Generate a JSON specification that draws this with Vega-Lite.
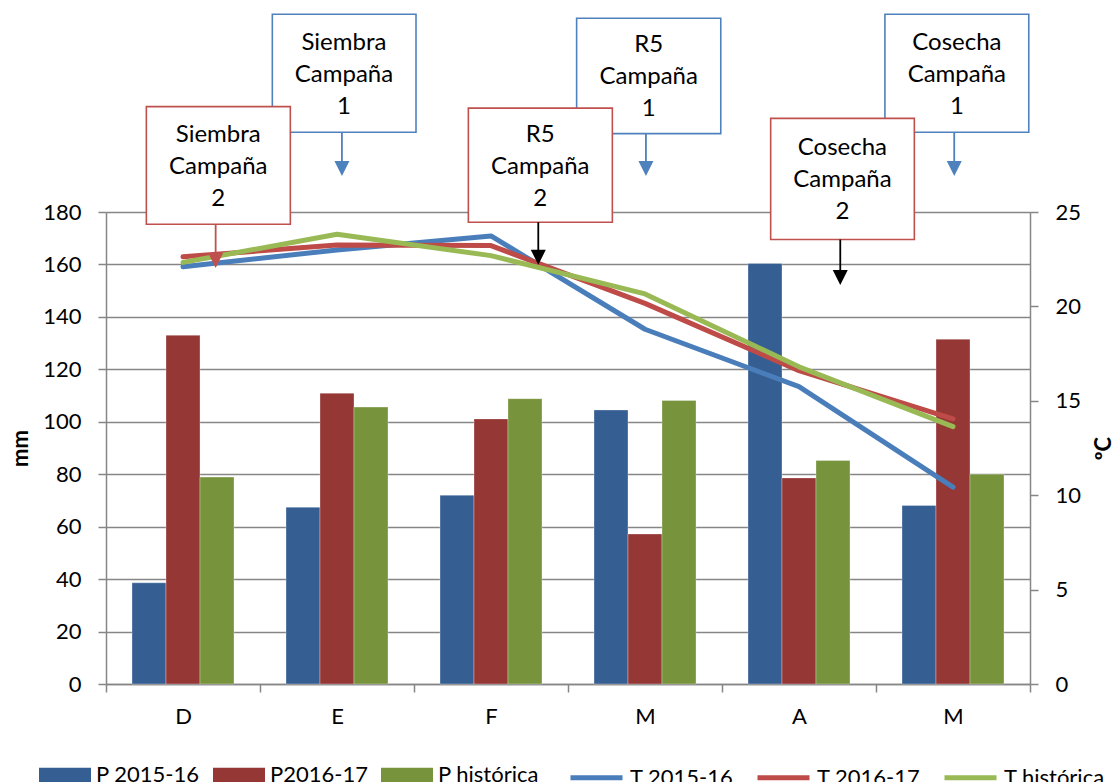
{
  "$schema": "https://vega.github.io/schema/vega-lite/v6.json",
  "width": 924,
  "height": 472,
  "autosize": {"type": "none"},
  "padding": {"left": 106, "top": 212, "right": 87, "bottom": 98},
  "background": "white",
  "config": {
    "font": "Lato",
    "view": {"stroke": null},
    "axis": {
      "domainColor": "#868686",
      "tickColor": "#868686",
      "gridColor": "#868686",
      "domainWidth": 1.5,
      "tickWidth": 1.5,
      "gridWidth": 1.5,
      "labelFont": "Lato",
      "labelFontSize": 22,
      "labelColor": "#000000",
      "titleFont": "Lato",
      "titleFontSize": 22,
      "titleFontWeight": "bold",
      "titleColor": "#000000"
    },
    "legend": {
      "title": null,
      "orient": "none",
      "direction": "horizontal",
      "columns": 3,
      "padding": 0,
      "columnPadding": 13,
      "labelOffset": 5,
      "labelFont": "Lato",
      "labelFontSize": 22,
      "labelColor": "#000000"
    }
  },
  "datasets": {
    "precip": [
      {"mes": "D", "serie": "P 2015-16", "mm": 38.6},
      {"mes": "E", "serie": "P 2015-16", "mm": 67.4},
      {"mes": "F", "serie": "P 2015-16", "mm": 72.0},
      {"mes": "M1", "serie": "P 2015-16", "mm": 104.5},
      {"mes": "A", "serie": "P 2015-16", "mm": 160.4},
      {"mes": "M2", "serie": "P 2015-16", "mm": 68.1},
      {"mes": "D", "serie": "P2016-17", "mm": 133.0},
      {"mes": "E", "serie": "P2016-17", "mm": 110.9},
      {"mes": "F", "serie": "P2016-17", "mm": 101.1},
      {"mes": "M1", "serie": "P2016-17", "mm": 57.2},
      {"mes": "A", "serie": "P2016-17", "mm": 78.6},
      {"mes": "M2", "serie": "P2016-17", "mm": 131.5},
      {"mes": "D", "serie": "P histórica", "mm": 78.9},
      {"mes": "E", "serie": "P histórica", "mm": 105.6},
      {"mes": "F", "serie": "P histórica", "mm": 108.8},
      {"mes": "M1", "serie": "P histórica", "mm": 108.1},
      {"mes": "A", "serie": "P histórica", "mm": 85.2},
      {"mes": "M2", "serie": "P histórica", "mm": 80.0}
    ],
    "temp": [
      {"mes": "D", "serie": "T 2015-16", "temp": 22.1},
      {"mes": "E", "serie": "T 2015-16", "temp": 22.99},
      {"mes": "F", "serie": "T 2015-16", "temp": 23.73},
      {"mes": "M1", "serie": "T 2015-16", "temp": 18.79},
      {"mes": "A", "serie": "T 2015-16", "temp": 15.75},
      {"mes": "M2", "serie": "T 2015-16", "temp": 10.43},
      {"mes": "D", "serie": "T 2016-17", "temp": 22.63},
      {"mes": "E", "serie": "T 2016-17", "temp": 23.25},
      {"mes": "F", "serie": "T 2016-17", "temp": 23.22},
      {"mes": "M1", "serie": "T 2016-17", "temp": 20.16},
      {"mes": "A", "serie": "T 2016-17", "temp": 16.6},
      {"mes": "M2", "serie": "T 2016-17", "temp": 14.04},
      {"mes": "D", "serie": "T histórica", "temp": 22.33},
      {"mes": "E", "serie": "T histórica", "temp": 23.82},
      {"mes": "F", "serie": "T histórica", "temp": 22.69},
      {"mes": "M1", "serie": "T histórica", "temp": 20.66},
      {"mes": "A", "serie": "T histórica", "temp": 16.8},
      {"mes": "M2", "serie": "T histórica", "temp": 13.63}
    ],
    "cajas": [
      {"campana": "1", "texto": "Siembra\nCampaña\n1", "x1": 1.080, "x2": 2.013, "y1": 210.4, "y2": 255.4, "xc": 1.545, "yc": 232.9},
      {"campana": "1", "texto": "R5\nCampaña\n1", "x1": 3.056, "x2": 3.992, "y1": 209.9, "y2": 253.9, "xc": 3.524, "yc": 231.9},
      {"campana": "1", "texto": "Cosecha\nCampaña\n1", "x1": 5.058, "x2": 5.992, "y1": 210.4, "y2": 255.4, "xc": 5.525, "yc": 232.9},
      {"campana": "2", "texto": "Siembra\nCampaña\n2", "x1": 0.262, "x2": 1.197, "y1": 175.3, "y2": 220.2, "xc": 0.729, "yc": 197.7},
      {"campana": "2", "texto": "R5\nCampaña\n2", "x1": 2.353, "x2": 3.288, "y1": 176.1, "y2": 219.6, "xc": 2.820, "yc": 197.8},
      {"campana": "2", "texto": "Cosecha\nCampaña\n2", "x1": 4.316, "x2": 5.249, "y1": 169.5, "y2": 215.7, "xc": 4.782, "yc": 192.6}
    ],
    "flechas": [
      {"grupo": "Campaña 1", "x": 1.532, "ytop": 210.4, "yhead": 196.6},
      {"grupo": "Campaña 1", "x": 3.506, "ytop": 209.9, "yhead": 196.6},
      {"grupo": "Campaña 1", "x": 5.508, "ytop": 210.4, "yhead": 196.6},
      {"grupo": "Campaña 2 siembra", "x": 0.712, "ytop": 175.3, "yhead": 161.5},
      {"grupo": "Campaña 2", "x": 2.807, "ytop": 176.1, "yhead": 162.7},
      {"grupo": "Campaña 2", "x": 4.768, "ytop": 169.5, "yhead": 155.0}
    ]
  },
  "layer": [
    {
      "data": {"name": "precip"},
      "mark": {"type": "bar", "stroke": "#ffffff", "strokeWidth": 0.6, "strokeOpacity": 0.5},
      "encoding": {
        "x": {
          "field": "mes", "type": "nominal",
          "sort": ["D", "E", "F", "M1", "A", "M2"],
          "scale": {"paddingInner": 0, "paddingOuter": 0},
          "axis": {"title": null, "tickBand": "extent", "grid": false, "tickSize": 8, "labelPadding": 14, "labelAngle": 0,
                   "labelExpr": "datum.value == 'M1' || datum.value == 'M2' ? 'M' : datum.value"}
        },
        "xOffset": {
          "field": "serie", "type": "nominal",
          "sort": ["P 2015-16", "P2016-17", "P histórica"],
          "scale": {"paddingOuter": 0.765, "paddingInner": 0}
        },
        "y": {
          "field": "mm", "type": "quantitative",
          "scale": {"domain": [0, 180], "nice": false, "zero": true},
          "axis": {"title": "mm", "orient": "left", "values": [0, 20, 40, 60, 80, 100, 120, 140, 160, 180],
                   "grid": true, "tickSize": 8, "labelPadding": 17,
                   "titleAngle": -90, "titleX": -86, "titleY": 236, "titleAlign": "center", "titleBaseline": "middle"}
        },
        "fill": {
          "field": "serie", "type": "nominal",
          "scale": {
            "domain": ["P 2015-16", "P2016-17", "P histórica"],
            "range": ["#355F93", "#953735", "#77933C"]
          },
          "legend": {
            "legendX": -67,
            "legendY": 537,
            "symbolType": "M-1,-0.28L1,-0.28L1,0.28L-1,0.28Z",
            "symbolSize": 2704,
            "symbolStrokeWidth": 0,
            "symbolOpacity": 1
          }
        }
      }
    },
    {
      "data": {"name": "temp"},
      "mark": {"type": "line", "strokeWidth": 5, "strokeCap": "round", "strokeJoin": "round"},
      "encoding": {
        "x": {
          "field": "mes", "type": "nominal",
          "sort": ["D", "E", "F", "M1", "A", "M2"],
          "scale": {"paddingInner": 0, "paddingOuter": 0},
          "axis": null
        },
        "y": {
          "field": "temp", "type": "quantitative",
          "scale": {"domain": [0, 25], "nice": false, "zero": true},
          "axis": {"title": "ºC", "orient": "right", "values": [0, 5, 10, 15, 20, 25], "grid": false,
                   "tickSize": 8, "labelPadding": 17,
                   "titleAngle": -90, "titleX": 73, "titleY": 236, "titleAlign": "center", "titleBaseline": "middle"}
        },
        "stroke": {
          "field": "serie", "type": "nominal",
          "scale": {
            "domain": ["T 2015-16", "T 2016-17", "T histórica"],
            "range": ["#4A7EBB", "#BE4B48", "#98B954"]
          },
          "legend": {
            "legendX": 462,
            "legendY": 537,
            "symbolType": "stroke",
            "symbolSize": 2704,
            "symbolStrokeWidth": 5
          }
        }
      }
    },
    {
      "data": {"name": "cajas"},
      "mark": {"type": "rect", "fill": "#ffffff", "strokeWidth": 1.6},
      "encoding": {
        "x": {"field": "x1", "type": "quantitative", "scale": {"domain": [0, 6], "nice": false, "zero": false}, "axis": null},
        "x2": {"field": "x2"},
        "y": {"field": "y1", "type": "quantitative", "scale": {"domain": [0, 180], "nice": false, "zero": true}, "axis": null},
        "y2": {"field": "y2"},
        "stroke": {"field": "campana", "type": "nominal", "scale": {"domain": ["1", "2"], "range": ["#4F81BD", "#C0504D"]}, "legend": null}
      }
    },
    {
      "data": {"name": "cajas"},
      "mark": {"type": "text", "font": "Lato", "fontSize": 24, "lineHeight": 32, "dy": -30.5, "align": "center", "baseline": "middle", "color": "#000000", "lineBreak": "\n"},
      "encoding": {
        "x": {"field": "xc", "type": "quantitative", "scale": {"domain": [0, 6], "nice": false, "zero": false}, "axis": null},
        "y": {"field": "yc", "type": "quantitative", "scale": {"domain": [0, 180], "nice": false, "zero": true}, "axis": null},
        "text": {"field": "texto", "type": "nominal"}
      }
    },
    {
      "data": {"name": "flechas"},
      "mark": {"type": "rule", "strokeWidth": 1.8},
      "encoding": {
        "x": {"field": "x", "type": "quantitative", "scale": {"domain": [0, 6], "nice": false, "zero": false}, "axis": null},
        "y": {"field": "ytop", "type": "quantitative", "scale": {"domain": [0, 180], "nice": false, "zero": true}, "axis": null},
        "y2": {"field": "yhead"},
        "stroke": {"field": "grupo", "type": "nominal", "scale": {"domain": ["Campaña 1", "Campaña 2 siembra", "Campaña 2"], "range": ["#4F81BD", "#C0504D", "#000000"]}, "legend": null}
      }
    },
    {
      "data": {"name": "flechas"},
      "mark": {"type": "point", "shape": "M-1,-1L1,-1L0,1Z", "size": 225, "filled": true, "opacity": 1, "strokeWidth": 0},
      "encoding": {
        "x": {"field": "x", "type": "quantitative", "scale": {"domain": [0, 6], "nice": false, "zero": false}, "axis": null},
        "y": {"field": "yhead", "type": "quantitative", "scale": {"domain": [0, 180], "nice": false, "zero": true}, "axis": null},
        "fill": {"field": "grupo", "type": "nominal", "scale": {"domain": ["Campaña 1", "Campaña 2 siembra", "Campaña 2"], "range": ["#4F81BD", "#C0504D", "#000000"]}, "legend": null}
      }
    }
  ],
  "resolve": {
    "scale": {"x": "independent", "y": "independent", "stroke": "independent", "fill": "independent", "xOffset": "independent"}
  }
}
